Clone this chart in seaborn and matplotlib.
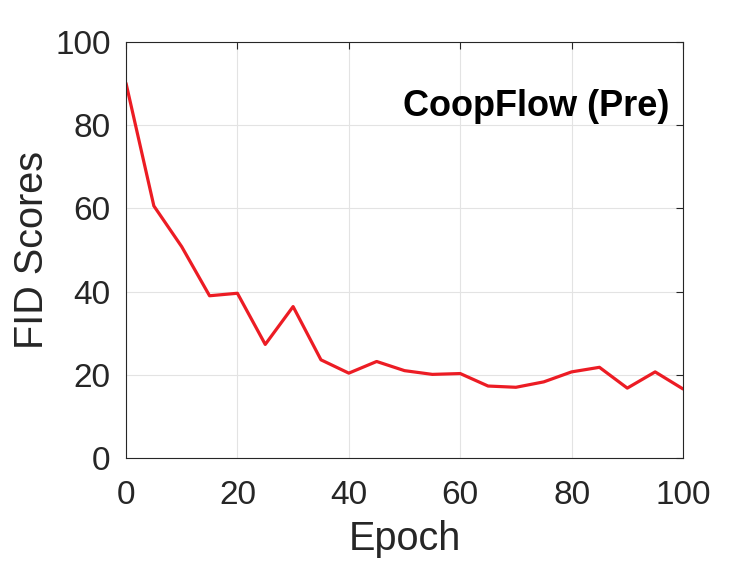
import matplotlib
matplotlib.use("Agg")
import matplotlib.pyplot as plt
import seaborn as sns
import pandas as pd

epochs = [0, 5, 10, 15, 20, 25, 30, 35, 40, 45, 50, 55, 60, 65, 70, 75, 80, 85, 90, 95, 100]
fid = [90.1, 60.6, 50.8, 39.0, 39.6, 27.3, 36.4, 23.6, 20.4, 23.2, 21.0, 20.1, 20.3,
       17.3, 17.0, 18.3, 20.7, 21.8, 16.8, 20.7, 16.6]
x_ticks = [0, 20, 40, 60, 80, 100]
y_ticks = [0, 20, 40, 60, 80, 100]

sns.set_theme(style="white")
plt.rcParams['font.family'] = ['Liberation Sans', 'DejaVu Sans']

df = pd.DataFrame({"Epoch": epochs, "FID": fid})
fig = plt.figure(figsize=(7.54, 5.65), dpi=100)
ax = fig.add_axes([126/754, 1 - 458/565, (683-126)/754, (458-42)/565])
sns.lineplot(data=df, x="Epoch", y="FID", ax=ax, color="#EC1C24", linewidth=2.3)

ax.set_xlim(0, 100)
ax.set_ylim(0, 100)
ax.set_xticks(x_ticks)
ax.set_yticks(y_ticks)
ax.grid(True, color="#E3E3E3", linewidth=0.8)
ax.set_axisbelow(True)
ax.tick_params(direction="in", length=5, width=0.8, color="#262626",
               labelsize=24, labelcolor="#262626", top=True, right=True)
ax.tick_params(axis="x", pad=16)
ax.tick_params(axis="y", pad=11)
for s in ax.spines.values():
    s.set_color("#262626")
    s.set_linewidth(0.8)
ax.set_xlabel("Epoch", fontsize=28.5, color="#262626", labelpad=6)
ax.set_ylabel("FID Scores", fontsize=28.5, color="#262626", labelpad=3)
ax.text(0.975, 0.846, "CoopFlow (Pre)", transform=ax.transAxes, ha="right", va="center",
        fontsize=26, fontweight="bold", color="black")

fig.savefig("out.png", dpi=100)
